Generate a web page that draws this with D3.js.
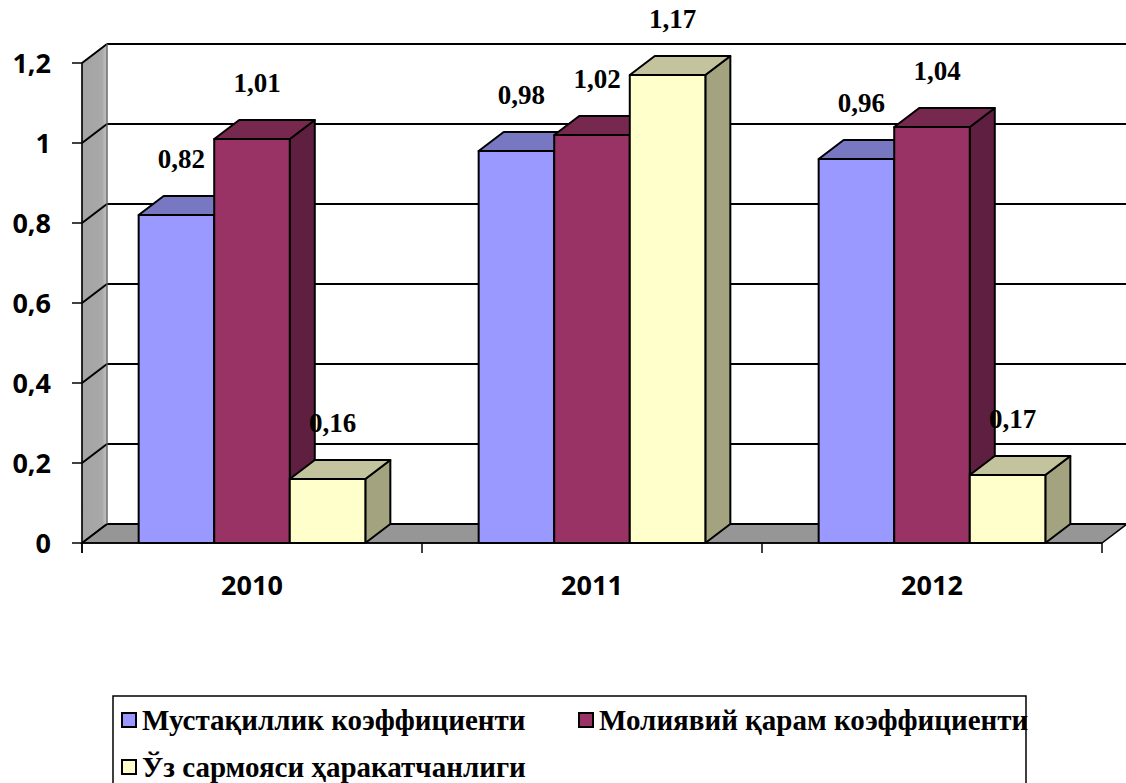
<!DOCTYPE html>
<html>
<head>
<meta charset="utf-8">
<script src="https://cdn.jsdelivr.net/npm/d3@7"></script>
<style>
  body { margin: 0; background: #fff; }
  svg { display: block; }
</style>
</head>
<body>
<div id="chart"></div>
<script>
// data
var years = ["2010", "2011", "2012"];
var seriesNames = ["Мустақиллик коэффициенти", "Молиявий қарам коэффициенти", "Ўз сармояси ҳаракатчанлиги"];
var mustaqillik = [0.82, 0.98, 0.96];
var moliyaviy = [1.01, 1.02, 1.04];
var harakatchanlik = [0.16, 1.17, 0.17];
var yTicks = [0, 0.2, 0.4, 0.6, 0.8, 1, 1.2];
var valueLabels = [["0,82", "0,98", "0,96"], ["1,01", "1,02", "1,04"], ["0,16", "1,17", "0,17"]];

// front / top / side colours per series
var frontColors = ["#9999ff", "#993366", "#ffffcc"];
var topColors = ["#7777c2", "#77284f", "#c3c39e"];
var sideColors = ["#6a6aaa", "#5f1f40", "#a3a37f"];

var svgWidth = 1126;
var svgHeight = 783;

// 3d depth offset
var dx = 25, dy = -19;

var svg = d3.select("#chart")
  .append("svg")
  .attr("width", svgWidth)
  .attr("height", svgHeight);

var x0 = d3.scaleBand().domain(years).range([82, 1102]);
var x1 = d3.scaleBand().domain(d3.range(3)).range([0, x0.bandwidth()]).paddingOuter(0.75);
var y = d3.scaleLinear().domain([0, 1.2]).range([543, 63]);

var series = [mustaqillik, moliyaviy, harakatchanlik];

var left = x0.range()[0], right = x0.range()[1];

var defs = svg.append("defs");
var grad = defs.append("linearGradient").attr("id", "wallGrad")
  .attr("x1", "0").attr("x2", "1").attr("y1", "0").attr("y2", "0");
grad.append("stop").attr("offset", "0%").attr("stop-color", "#a4a4a4");
grad.append("stop").attr("offset", "80%").attr("stop-color", "#a8a8a8");
grad.append("stop").attr("offset", "100%").attr("stop-color", "#c4c4c4");

// side wall
svg.append("polygon")
  .attr("points", [[left, y(1.2)], [left + dx, y(1.2) + dy], [left + dx, y(0) + dy], [left, y(0)]].join(" "))
  .attr("fill", "url(#wallGrad)")
  .attr("stroke", "#555")
  .attr("stroke-width", 1);

// floor
svg.append("polygon")
  .attr("points", [[left, y(0)], [left + dx, y(0) + dy], [right + dx, y(0) + dy], [right, y(0)]].join(" "))
  .attr("fill", "#969696")
  .attr("stroke", "#000")
  .attr("stroke-width", 1.5);

// gridlines on back wall and side wall
var grid = svg.append("g");
yTicks.forEach(function(t) {
  grid.append("line")
    .attr("x1", left + dx).attr("x2", right + dx)
    .attr("y1", y(t) + dy).attr("y2", y(t) + dy)
    .attr("stroke", "#000").attr("stroke-width", 2);
  grid.append("line")
    .attr("x1", left).attr("x2", left + dx)
    .attr("y1", y(t)).attr("y2", y(t) + dy)
    .attr("stroke", "#000").attr("stroke-width", 2);
});
grid.append("line")
  .attr("x1", left + dx).attr("x2", left + dx)
  .attr("y1", y(1.2) + dy).attr("y2", y(0) + dy)
  .attr("stroke", "#777").attr("stroke-width", 1);

// y axis
svg.append("line")
  .attr("x1", left).attr("x2", left)
  .attr("y1", y(1.2)).attr("y2", y(0) + 10)
  .attr("stroke", "#000").attr("stroke-width", 1.5);
var yAxis = svg.append("g");
yTicks.forEach(function(t) {
  yAxis.append("line")
    .attr("x1", left - 10).attr("x2", left)
    .attr("y1", y(t)).attr("y2", y(t))
    .attr("stroke", "#000").attr("stroke-width", 1.5);
  yAxis.append("text")
    .attr("x", left - 31)
    .attr("y", y(t))
    .attr("dy", "0.36em")
    .attr("text-anchor", "end")
    .style("font-family", "'Open Sans', sans-serif")
    .style("font-weight", "bold")
    .style("font-size", "27px")
    .text(String(t).replace(".", ","));
});

// x axis
svg.append("line")
  .attr("x1", left).attr("x2", right)
  .attr("y1", y(0)).attr("y2", y(0))
  .attr("stroke", "#000").attr("stroke-width", 1.5);
years.concat(["end"]).forEach(function(c, i) {
  var xx = i < years.length ? x0(c) : right;
  svg.append("line")
    .attr("x1", xx).attr("x2", xx)
    .attr("y1", y(0)).attr("y2", y(0) + 10)
    .attr("stroke", "#000").attr("stroke-width", 1.5);
});
svg.selectAll(".xlabel")
  .data(years)
  .enter()
  .append("text")
  .attr("x", d => x0(d) + x0.bandwidth() / 2)
  .attr("y", 595)
  .attr("text-anchor", "middle")
  .style("font-family", "'Open Sans', sans-serif")
  .style("font-weight", "bold")
  .style("font-size", "27px")
  .text(d => d);

// bars, drawn left to right so later fronts cover earlier sides
var bars = svg.append("g");
years.forEach(function(yr, i) {
  series.forEach(function(s, k) {
    var xa = x0(yr) + x1(k);
    var xb = xa + x1.bandwidth();
    var yt = y(s[i]);
    var yb = y(0);
    var g = bars.append("g")
      .attr("stroke", "#000")
      .attr("stroke-width", 2)
      .attr("stroke-linejoin", "round");
    g.append("polygon")
      .attr("points", [[xb, yt], [xb + dx, yt + dy], [xb + dx, yb + dy], [xb, yb]].join(" "))
      .attr("fill", sideColors[k]);
    g.append("polygon")
      .attr("points", [[xa, yt], [xa + dx, yt + dy], [xb + dx, yt + dy], [xb, yt]].join(" "))
      .attr("fill", topColors[k]);
    g.append("rect")
      .attr("x", xa).attr("y", yt)
      .attr("width", xb - xa).attr("height", yb - yt)
      .attr("fill", frontColors[k]);
  });
});

// value labels
years.forEach(function(yr, i) {
  series.forEach(function(s, k) {
    svg.append("text")
      .attr("x", x0(yr) + x1(k) + x1.bandwidth() / 2 + 5)
      .attr("y", y(s[i]) - 47)
      .attr("text-anchor", "middle")
      .style("font-family", "'Liberation Serif', 'Times New Roman', serif")
      .style("font-weight", "bold")
      .style("font-size", "27px")
      .text(valueLabels[k][i]);
  });
});

// legend
var legend = svg.append("g");
legend.append("path")
  .attr("d", "M113,790 L113,696 L1026,696 L1026,790")
  .attr("fill", "none")
  .attr("stroke", "#000")
  .attr("stroke-width", 1.5);
var legendPos = [[122, 720], [579, 720], [122, 767]];
seriesNames.forEach(function(name, k) {
  var p = legendPos[k];
  legend.append("rect")
    .attr("x", p[0]).attr("y", p[1] - 7)
    .attr("width", 14).attr("height", 14)
    .attr("fill", frontColors[k])
    .attr("stroke", "#000")
    .attr("stroke-width", 2);
  legend.append("text")
    .attr("x", p[0] + 20)
    .attr("y", p[1])
    .attr("dy", "0.35em")
    .style("font-family", "'Liberation Serif', 'Times New Roman', serif")
    .style("font-weight", "bold")
    .style("font-size", "29px")
    .text(name);
});
</script>
</body>
</html>
